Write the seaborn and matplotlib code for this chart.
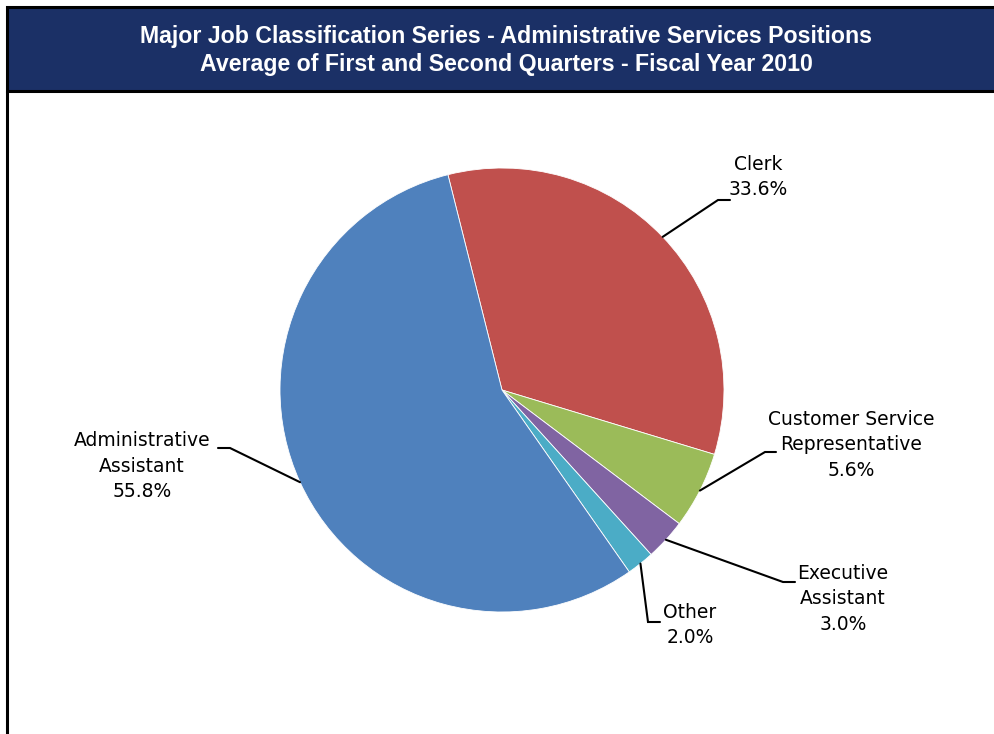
import matplotlib
matplotlib.use("Agg")
import numpy as np
import matplotlib.pyplot as plt
import seaborn as sns
from matplotlib.patches import Rectangle

# ---- data -------------------------------------------------------------
categories = ["Clerk", "Customer Service\nRepresentative", "Executive\nAssistant",
              "Other", "Administrative\nAssistant"]
shares = [33.6, 5.6, 3.0, 2.0, 55.8]
slice_colors = ["#C0504D", "#9BBB59", "#8064A2", "#4BACC6", "#4F81BD"]
title_lines = ["Major Job Classification Series - Administrative Services Positions",
               "Average of First and Second Quarters - Fiscal Year 2010"]

# ---- layout (pixel units, measured from the top-left corner) -----------
W, H = 995, 734
pie_center = (502, 390)
pie_radius = 222
label_centers = [(758, 177), (851, 445), (843, 599), (690, 625), (142, 466)]
leader_elbows = [(718, 200), (765, 452), (783, 582), (648, 622), (230, 448)]
leader_ends = [(730, 200), (776, 452), (795, 582), (660, 622), (218, 448)]

sns.set_theme(style="white")
plt.rcParams["font.family"] = ["DejaVu Sans"]

fig = plt.figure(figsize=(W / 100, H / 100), dpi=100)
ax = fig.add_axes([0, 0, 1, 1])


def Y(y):
    return H - y


palette = sns.color_palette(slice_colors)
wedges, _ = ax.pie(
    shares, colors=palette, startangle=104.1, counterclock=False,
    center=(pie_center[0], Y(pie_center[1])), radius=pie_radius,
    wedgeprops=dict(linewidth=0.6, edgecolor="white"), frame=False,
)
ax.set_xlim(0, W)
ax.set_ylim(0, H)
ax.set_aspect("equal", adjustable="datalim")
ax.axis("off")

# header band with the chart title
ax.add_patch(Rectangle((7, Y(91)), W + 20, 84, facecolor="#1B3066",
                       edgecolor="black", linewidth=2.2, zorder=3))
ax.plot([7, 7], [Y(91), Y(H + 5)], color="black", lw=2.2, zorder=3,
        solid_capstyle="butt")

title_font = ["Liberation Sans", "DejaVu Sans"]
t1 = ax.text(505.5, Y(36), title_lines[0], color="white", fontweight="bold",
             family=title_font, fontsize=14, ha="center", va="center", zorder=4)
t2 = ax.text(506, Y(65), title_lines[1], color="white", fontweight="bold",
             family=title_font, fontsize=14, ha="center", va="center", zorder=4)
fig.canvas.draw()
scale = 735 / t1.get_window_extent().width
t1.set_fontsize(14 * scale)
t2.set_fontsize(14 * scale)

# slice labels with leader lines
for w, name, val, lc, el, en in zip(wedges, categories, shares,
                                    label_centers, leader_elbows, leader_ends):
    mid = np.deg2rad((w.theta1 + w.theta2) / 2)
    cx, cy = w.center
    sx, sy = cx + w.r * np.cos(mid), cy + w.r * np.sin(mid)
    ax.plot([sx, el[0], en[0]], [sy, Y(el[1]), Y(en[1])], color="black",
            lw=1.5, zorder=2, solid_joinstyle="miter")
    ax.text(lc[0], Y(lc[1]), f"{name}\n{val:.1f}%", ha="center", va="center",
            fontsize=13.5, color="black", linespacing=1.45, zorder=4)

fig.savefig("out.png", dpi=100)
